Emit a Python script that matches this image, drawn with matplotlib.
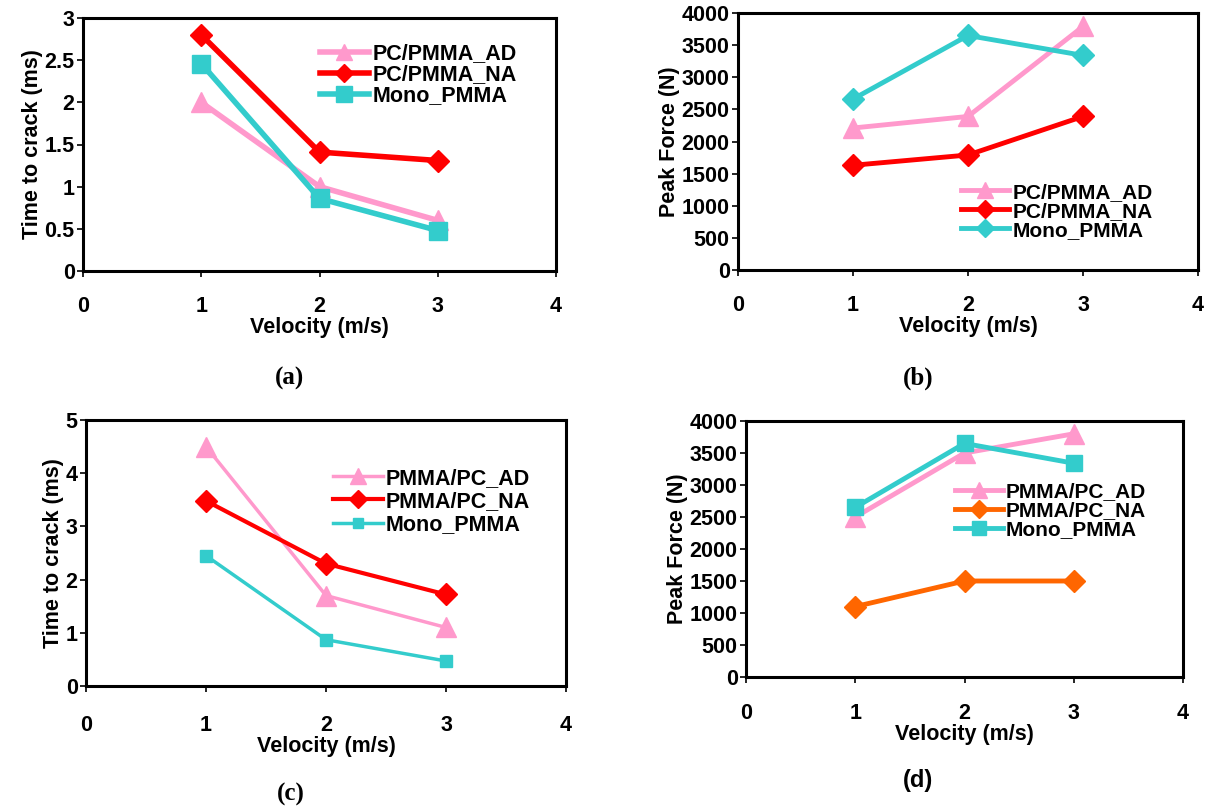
import matplotlib
matplotlib.use("Agg")
import matplotlib.pyplot as plt

plt.rcParams['font.family'] = ['Liberation Sans', 'DejaVu Sans']
plt.rcParams['font.weight'] = 'bold'

velocity = [1, 2, 3]

# (a) PC/PMMA - time to crack (ms)
a_ad = [2.0, 1.0, 0.6]
a_na = [2.8, 1.41, 1.31]
a_mono = [2.46, 0.86, 0.48]

# (b) PC/PMMA - peak force (N)
b_ad = [2210, 2390, 3790]
b_na = [1630, 1790, 2390]
b_mono = [2660, 3650, 3340]

# (c) PMMA/PC - time to crack (ms)
c_ad = [4.5, 1.7, 1.1]
c_na = [3.48, 2.3, 1.72]
c_mono = [2.45, 0.87, 0.47]

# (d) PMMA/PC - peak force (N)
d_ad = [2500, 3500, 3800]
d_na = [1100, 1500, 1500]
d_mono = [2650, 3650, 3340]

PINK = '#FF99CC'
RED = '#FF0000'
TEAL = '#33CCCC'
ORANGE = '#FF6600'
FS = 15.5
W, H = 1209.0, 809.0

fig = plt.figure(figsize=(12.09, 8.09), dpi=100)

def box(l, r, t, b):
    # pixel edges -> figure fraction
    return [l / W, 1 - b / H, (r - l) / W, (b - t) / H]

def style(ax, ymax, ystep, ylabel, yfmt, xpad):
    ax.set_xlim(0, 4)
    ax.set_ylim(0, ymax)
    ax.set_xticks([0, 1, 2, 3, 4])
    yt = []
    v = 0
    while v <= ymax + 1e-9:
        yt.append(v)
        v += ystep
    ax.set_yticks(yt)
    ax.set_yticklabels([yfmt(t) for t in yt])
    for s in ax.spines.values():
        s.set_linewidth(2.2)
    ax.tick_params(direction='out', length=4, width=1.2, labelsize=FS)
    ax.tick_params(axis='y', pad=2)
    ax.tick_params(axis='x', pad=xpad)
    for lbl in ax.get_xticklabels() + ax.get_yticklabels():
        lbl.set_fontweight('bold')
    ax.set_xlabel('Velocity (m/s)', fontsize=FS, fontweight='bold', labelpad=0)
    ax.set_ylabel(ylabel, fontsize=FS, fontweight='bold', labelpad=1)

def tfmt(t):
    return ('%g' % t)

def ffmt(t):
    return '%d' % t

def leg(ax, x, y, sp, size=FS):
    ax.legend(loc='upper left', bbox_to_anchor=(x, y), frameon=False,
              handlelength=2.3, labelspacing=sp, handletextpad=0.15,
              borderpad=0, borderaxespad=0,
              prop={'weight': 'bold', 'size': size}, markerscale=0.85)

# (a)
ax = fig.add_axes(box(83, 556, 18, 271))
ax.plot(velocity, a_ad, color=PINK, lw=4, marker='^', ms=14, label='PC/PMMA_AD')
ax.plot(velocity, a_na, color=RED, lw=4, marker='D', ms=11, label='PC/PMMA_NA')
ax.plot(velocity, a_mono, color=TEAL, lw=4, marker='s', ms=13, label='Mono_PMMA')
style(ax, 3, 0.5, 'Time to crack (ms)', tfmt, 14)
leg(ax, 0.50, 0.90, 0.0)
fig.text(290 / W, 1 - 378 / H, '(a)', ha='center', va='center',
         fontsize=18, fontweight='bold', family='Liberation Serif')

# (b)
ax = fig.add_axes(box(738, 1198, 13, 270))
ax.plot(velocity, b_ad, color=PINK, lw=3.5, marker='^', ms=14, label='PC/PMMA_AD')
ax.plot(velocity, b_na, color=RED, lw=3.5, marker='D', ms=11, label='PC/PMMA_NA')
ax.plot(velocity, b_mono, color=TEAL, lw=3.5, marker='D', ms=11, label='Mono_PMMA')
style(ax, 4000, 500, 'Peak Force (N)', ffmt, 14)
leg(ax, 0.485, 0.34, 0.0, 15)
fig.text(918 / W, 1 - 378 / H, '(b)', ha='center', va='center',
         fontsize=18, fontweight='bold', family='Liberation Serif')

# (c)
ax = fig.add_axes(box(86, 566, 420, 686))
ax.plot(velocity, c_ad, color=PINK, lw=2.5, marker='^', ms=14, label='PMMA/PC_AD')
ax.plot(velocity, c_na, color=RED, lw=3, marker='D', ms=11, label='PMMA/PC_NA')
ax.plot(velocity, c_mono, color=TEAL, lw=2.5, marker='s', ms=9, label='Mono_PMMA')
style(ax, 5, 1, 'Time to crack (ms)', tfmt, 17)
leg(ax, 0.515, 0.82, 0.1)
fig.text(291 / W, 1 - 794 / H, '(c)', ha='center', va='center',
         fontsize=18, fontweight='bold', family='Liberation Serif')

# (d)
ax = fig.add_axes(box(746, 1183, 421, 677))
ax.plot(velocity, d_ad, color=PINK, lw=3.5, marker='^', ms=14, label='PMMA/PC_AD')
ax.plot(velocity, d_na, color=ORANGE, lw=3.5, marker='D', ms=11, label='PMMA/PC_NA')
ax.plot(velocity, d_mono, color=TEAL, lw=3.5, marker='s', ms=12, label='Mono_PMMA')
style(ax, 4000, 500, 'Peak Force (N)', ffmt, 15)
leg(ax, 0.478, 0.76, 0.0, 15)
fig.text(918 / W, 1 - 780 / H, '(d)', ha='center', va='center',
         fontsize=17, fontweight='bold')

fig.savefig('out.png', dpi=100)
